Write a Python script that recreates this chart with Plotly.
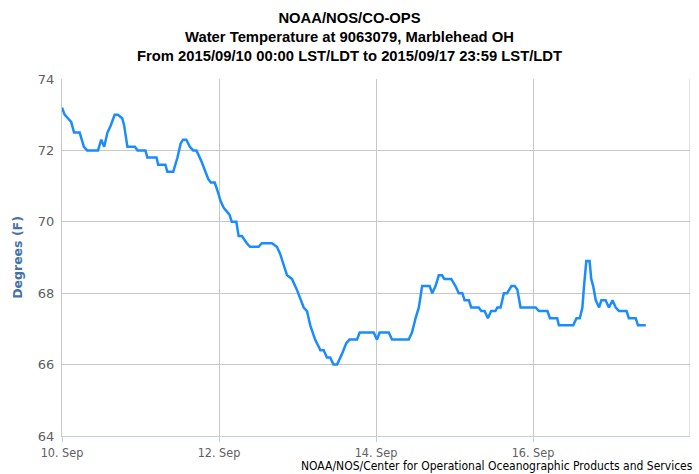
import plotly.graph_objects as go

times = [
    "2015-09-10 00:00", "2015-09-10 00:48", "2015-09-10 01:48", "2015-09-10 02:48", "2015-09-10 03:42",
    "2015-09-10 05:24", "2015-09-10 06:42", "2015-09-10 07:42", "2015-09-10 11:00", "2015-09-10 12:00",
    "2015-09-10 12:54", "2015-09-10 13:54", "2015-09-10 14:54", "2015-09-10 16:06", "2015-09-10 17:06",
    "2015-09-10 18:24", "2015-09-10 19:00", "2015-09-10 20:00", "2015-09-10 22:18", "2015-09-10 23:06",
    "2015-09-11 01:30", "2015-09-11 02:06", "2015-09-11 04:54", "2015-09-11 05:24", "2015-09-11 07:36",
    "2015-09-11 08:12", "2015-09-11 10:00", "2015-09-11 11:18", "2015-09-11 12:18", "2015-09-11 13:00",
    "2015-09-11 14:00", "2015-09-11 15:06", "2015-09-11 16:06", "2015-09-11 17:06", "2015-09-11 18:36",
    "2015-09-11 20:42", "2015-09-11 21:30", "2015-09-11 22:42", "2015-09-11 23:48", "2015-09-12 00:24",
    "2015-09-12 01:24", "2015-09-12 02:24", "2015-09-12 03:12", "2015-09-12 03:54", "2015-09-12 05:18",
    "2015-09-12 06:00", "2015-09-12 07:00", "2015-09-12 08:30", "2015-09-12 09:30", "2015-09-12 12:06",
    "2015-09-12 13:06", "2015-09-12 16:12", "2015-09-12 17:42", "2015-09-12 18:42", "2015-09-12 20:48",
    "2015-09-12 22:18", "2015-09-12 23:48", "2015-09-13 01:54", "2015-09-13 02:54", "2015-09-13 03:54",
    "2015-09-13 05:24", "2015-09-13 07:00", "2015-09-13 08:00", "2015-09-13 09:00", "2015-09-13 10:00",
    "2015-09-13 11:00", "2015-09-13 12:06", "2015-09-13 13:36", "2015-09-13 14:54", "2015-09-13 15:54",
    "2015-09-13 18:12", "2015-09-13 19:00", "2015-09-13 23:18", "2015-09-14 00:18", "2015-09-14 01:06",
    "2015-09-14 03:54", "2015-09-14 04:54", "2015-09-14 10:00", "2015-09-14 11:00", "2015-09-14 12:06",
    "2015-09-14 13:06", "2015-09-14 14:06", "2015-09-14 16:24", "2015-09-14 17:12", "2015-09-14 18:12",
    "2015-09-14 19:12", "2015-09-14 20:12", "2015-09-14 20:54", "2015-09-14 23:00", "2015-09-15 00:18",
    "2015-09-15 01:18", "2015-09-15 02:24", "2015-09-15 03:06", "2015-09-15 04:24", "2015-09-15 05:06",
    "2015-09-15 07:24", "2015-09-15 08:12", "2015-09-15 09:12", "2015-09-15 10:12", "2015-09-15 11:12",
    "2015-09-15 12:30", "2015-09-15 13:06", "2015-09-15 14:06", "2015-09-15 15:06", "2015-09-15 16:06",
    "2015-09-15 17:24", "2015-09-15 18:24", "2015-09-15 19:12", "2015-09-15 20:12", "2015-09-16 00:48",
    "2015-09-16 01:48", "2015-09-16 04:24", "2015-09-16 05:12", "2015-09-16 07:24", "2015-09-16 07:54",
    "2015-09-16 12:18", "2015-09-16 13:18", "2015-09-16 14:18", "2015-09-16 15:06", "2015-09-16 15:36",
    "2015-09-16 16:18", "2015-09-16 17:18", "2015-09-16 17:48", "2015-09-16 18:24", "2015-09-16 19:12",
    "2015-09-16 20:12", "2015-09-16 20:54", "2015-09-16 22:12", "2015-09-16 23:12", "2015-09-17 00:18",
    "2015-09-17 01:18", "2015-09-17 02:18", "2015-09-17 04:36", "2015-09-17 05:18", "2015-09-17 07:24",
    "2015-09-17 08:06", "2015-09-17 10:30",
]

temps = [
    73.2, 73.0, 72.9, 72.8, 72.5,
    72.5, 72.1, 72.0, 72.0, 72.3,
    72.1, 72.5, 72.7, 73.0, 73.0,
    72.9, 72.7, 72.1, 72.1, 72.0,
    72.0, 71.8, 71.8, 71.6, 71.6,
    71.4, 71.4, 71.8, 72.2, 72.3,
    72.3, 72.1, 72.0, 72.0, 71.7,
    71.2, 71.1, 71.1, 70.8, 70.6,
    70.4, 70.3, 70.2, 70.0, 70.0,
    69.6, 69.6, 69.4, 69.3, 69.3,
    69.4, 69.4, 69.3, 69.1, 68.5,
    68.4, 68.1, 67.6, 67.5, 67.1,
    66.7, 66.4, 66.4, 66.2, 66.2,
    66.0, 66.0, 66.3, 66.6, 66.7,
    66.7, 66.9, 66.9, 66.7, 66.9,
    66.9, 66.7, 66.7, 66.9, 67.3,
    67.6, 68.2, 68.2, 68.0, 68.2,
    68.5, 68.5, 68.4, 68.4, 68.2,
    68.0, 68.0, 67.8, 67.8, 67.6,
    67.6, 67.5, 67.5, 67.3, 67.5,
    67.5, 67.6, 67.6, 68.0, 68.0,
    68.2, 68.2, 68.1, 67.6, 67.6,
    67.5, 67.5, 67.3, 67.3, 67.1,
    67.1, 67.3, 67.3, 67.6, 68.2,
    68.9, 68.9, 68.4, 68.2, 67.8,
    67.6, 67.8, 67.8, 67.6, 67.8,
    67.6, 67.5, 67.5, 67.3, 67.3,
    67.1, 67.1,
]

x_tick_vals = ["2015-09-10", "2015-09-12", "2015-09-14", "2015-09-16"]
x_tick_text = ["10. Sep", "12. Sep", "14. Sep", "16. Sep"]
y_tick_vals = [64, 66, 68, 70, 72, 74]

fig = go.Figure()
fig.add_trace(go.Scatter(
    x=times, y=temps, mode="lines",
    line=dict(color="#1a8cff", width=2.5),
    hoverinfo="x+y", showlegend=False,
))

fig.update_layout(
    width=699, height=474,
    margin=dict(l=62, r=9, t=79, b=38, autoexpand=False),
    paper_bgcolor="white", plot_bgcolor="white",
    title=dict(
        text="NOAA/NOS/CO-OPS<br>Water Temperature at 9063079, Marblehead OH<br>"
             "From 2015/09/10 00:00 LST/LDT to 2015/09/17 23:59 LST/LDT",
        x=0.5, xanchor="center", xref="container",
        y=0.952, yanchor="top", yref="container",
        font=dict(family="Liberation Sans, Arial, sans-serif", size=14.8, color="black", weight="bold"),
    ),
    xaxis=dict(
        type="date",
        range=["2015-09-10", "2015-09-18"],
        tickvals=x_tick_vals, ticktext=x_tick_text,
        showgrid=True, gridcolor="#C8C8C8", gridwidth=1,
        showline=True, linecolor="#C0D0E0", linewidth=1,
        ticks="outside", ticklen=5, tickcolor="#C0D0E0",
        tickfont=dict(family="DejaVu Sans Condensed, DejaVu Sans, sans-serif", size=12.5, color="#606060"),
        zeroline=False, automargin=False,
    ),
    yaxis=dict(
        range=[64, 74],
        tickvals=y_tick_vals,
        showgrid=True, gridcolor="#C8C8C8", gridwidth=1,
        showline=True, linecolor="#C8C8C8", linewidth=1,
        ticks="", ticklabelstandoff=4,
        tickfont=dict(family="DejaVu Sans, sans-serif", size=13, color="#606060"),
        title=dict(text="Degrees (F)", standoff=12,
                   font=dict(family="DejaVu Sans, sans-serif", size=12.5, color="#4572A7", weight="bold")),
        zeroline=False, automargin=False,
    ),
    shapes=[dict(type="line", xref="x", yref="paper", x0="2015-09-18", x1="2015-09-18",
                 y0=0, y1=1, line=dict(color="#C8C8C8", width=1))],
    annotations=[dict(
        text="NOAA/NOS/Center for Operational Oceanographic Products and Services",
        xref="paper", yref="paper", x=1.008, y=-0.084, xanchor="right", yanchor="middle",
        showarrow=False,
        font=dict(family="DejaVu Sans Condensed, DejaVu Sans, sans-serif", size=12, color="black"),
    )],
)

fig.write_html("out.html", config={"displayModeBar": False},
               post_script="document.body.style.margin='0';document.body.style.overflow='hidden';")
